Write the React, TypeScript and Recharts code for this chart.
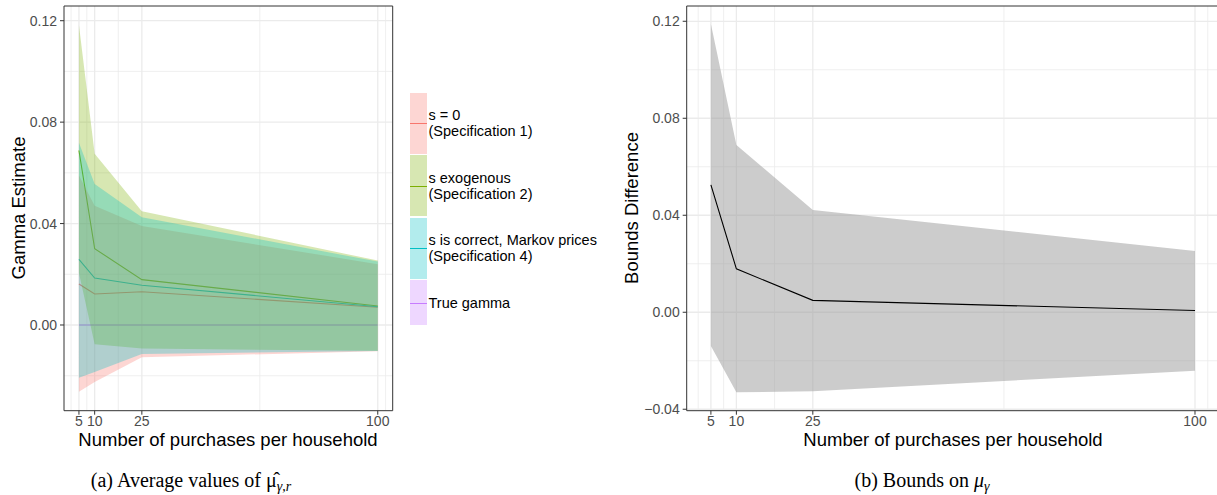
import {
  ComposedChart,
  Area,
  Line,
  XAxis,
  YAxis,
  CartesianGrid,
  ReferenceLine,
} from 'recharts';

// purchases per household (x)
const purchases = [5, 10, 25, 100];

// (a) s = 0 (Specification 1)
const spec1Mean = [0.0162, 0.0122, 0.0131, 0.007];
const spec1Lower = [-0.0263, -0.0225, -0.0127, -0.0104];
const spec1Upper = [0.059, 0.047, 0.039, 0.024];

// (a) s exogenous (Specification 2)
const spec2Mean = [0.0688, 0.0301, 0.0179, 0.0075];
const spec2Lower = [0.0205, -0.0076, -0.0093, -0.0102];
const spec2Upper = [0.1183, 0.0675, 0.0449, 0.0254];

// (a) s is correct, Markov prices (Specification 4)
const spec4Mean = [0.0259, 0.0185, 0.0157, 0.0072];
const spec4Lower = [-0.0208, -0.0185, -0.0114, -0.0103];
const spec4Upper = [0.0719, 0.0556, 0.0425, 0.025];

const trueGamma = [0, 0, 0, 0];

// (b) bounds difference
const boundsMean = [0.0525, 0.0179, 0.0049, 0.0007];
const boundsLower = [-0.0139, -0.033, -0.0326, -0.0241];
const boundsUpper = [0.1189, 0.069, 0.0422, 0.0253];

const xTicks = [5, 10, 25, 100];
const xMinor = [2.5, 7.5, 17.5, 62.5, 102.5];
const leftYTicks = [0, 0.04, 0.08, 0.12];
const rightYTicks = [-0.04, 0, 0.04, 0.08, 0.12];
const yMinor = [-0.02, 0.02, 0.06, 0.1];

const xDomain: [number, number] = [0.25, 104.75];
const leftYDomain: [number, number] = [-0.0338, 0.1258];
const rightYDomain: [number, number] = [-0.0406, 0.1263];

const RED = '#F8766D';
const GREEN = '#7CAE00';
const CYAN = '#00BFC4';
const PURPLE = '#C77CFF';

const legendItems = [
  { lines: ['s = 0', '(Specification 1)'], color: RED },
  { lines: ['s exogenous', '(Specification 2)'], color: GREEN },
  { lines: ['s is correct, Markov prices', '(Specification 4)'], color: CYAN },
  { lines: ['True gamma'], color: PURPLE },
];

const leftData = purchases.map((n, i) => ({
  n,
  s1: spec1Mean[i],
  s1Band: [spec1Lower[i], spec1Upper[i]],
  s2: spec2Mean[i],
  s2Band: [spec2Lower[i], spec2Upper[i]],
  s4: spec4Mean[i],
  s4Band: [spec4Lower[i], spec4Upper[i]],
  truth: trueGamma[i],
}));

const rightData = purchases.map((n, i) => ({
  n,
  diff: boundsMean[i],
  band: [boundsLower[i], boundsUpper[i]],
}));

const fmt = (v: number) => (v < 0 ? '\u2212' + Math.abs(v).toFixed(2) : v.toFixed(2));

const tickStyle = { fontSize: 14, fill: '#4D4D4D' };
const axisTitle: React.CSSProperties = {
  position: 'absolute',
  fontSize: 18.5,
  lineHeight: '22px',
  height: 22,
  color: '#000',
  textAlign: 'center',
  whiteSpace: 'nowrap',
};
const caption: React.CSSProperties = {
  position: 'absolute',
  width: 400,
  top: 468,
  height: 27,
  textAlign: 'center',
  fontFamily: '"Liberation Serif", "Times New Roman", serif',
  fontSize: 20,
  lineHeight: '24px',
  whiteSpace: 'nowrap',
};
const subStyle: React.CSSProperties = { fontSize: 14, position: 'relative', top: 4 };

export default function App() {
  return (
    <div
      style={{
        position: 'absolute',
        left: 0,
        top: 0,
        width: 1217,
        height: 495,
        overflow: 'hidden',
        background: '#fff',
        fontFamily: '"Liberation Sans", Arial, sans-serif',
      }}
    >
      {/* (a) */}
      <div style={{ position: 'absolute', left: 0, top: 0 }}>
        <ComposedChart
          width={400}
          height={432}
          data={leftData}
          margin={{ top: 6, right: 7.3, bottom: 0, left: 0 }}
        >
          <CartesianGrid stroke="#EBEBEB" strokeWidth={0.8} horizontalValues={yMinor} verticalValues={xMinor} />
          <CartesianGrid stroke="#EBEBEB" strokeWidth={1.3} horizontalValues={leftYTicks} verticalValues={xTicks} />
          <XAxis
            dataKey="n"
            type="number"
            domain={xDomain}
            ticks={xTicks}
            allowDataOverflow
            height={21.3}
            tickSize={4}
            tickMargin={1}
            tick={tickStyle}
            stroke="#333"
            interval={0}
          />
          <YAxis
            type="number"
            domain={leftYDomain}
            ticks={leftYTicks}
            allowDataOverflow
            width={64}
            tickSize={4}
            tickMargin={3}
            tick={tickStyle}
            tickFormatter={fmt}
            stroke="#333"
            interval={0}
          />
          <Line dataKey="truth" stroke={PURPLE} strokeWidth={1.1} dot={false} isAnimationActive={false} zIndex={90} />
          <Line dataKey="s1" stroke={RED} strokeWidth={1.1} dot={false} isAnimationActive={false} zIndex={91} />
          <Line dataKey="s2" stroke={GREEN} strokeWidth={1.1} dot={false} isAnimationActive={false} zIndex={92} />
          <Line dataKey="s4" stroke={CYAN} strokeWidth={1.1} dot={false} isAnimationActive={false} zIndex={93} />
          <Area dataKey="s1Band" type="linear" stroke="none" fill={RED} fillOpacity={0.3} isAnimationActive={false} zIndex={501} />
          <Area dataKey="s2Band" type="linear" stroke="none" fill={GREEN} fillOpacity={0.3} isAnimationActive={false} zIndex={502} />
          <Area dataKey="s4Band" type="linear" stroke="none" fill={CYAN} fillOpacity={0.3} isAnimationActive={false} zIndex={503} />
          <ReferenceLine y={leftYDomain[1]} stroke="#333" strokeWidth={1} />
          <ReferenceLine x={xDomain[1]} stroke="#333" strokeWidth={1} />
        </ComposedChart>
        <div style={{ ...axisTitle, left: 28, top: 429, width: 400 }}>Number of purchases per household</div>
        <div
          style={{
            ...axisTitle,
            left: 18.5 - 150,
            top: 208 - 11,
            width: 300,
            transform: 'rotate(-90deg)',
          }}
        >
          Gamma Estimate
        </div>
      </div>

      {/* legend of (a) */}
      <div style={{ position: 'absolute', left: 410, top: 92.7, fontSize: 14.5, lineHeight: '16px', color: '#000' }}>
        {legendItems.map((it) => (
          <div
            key={it.lines[0]}
            style={{
              display: 'flex',
              alignItems: 'center',
              height: it.lines.length > 1 ? 61 : 45,
              marginBottom: 1.5,
            }}
          >
            <div
              style={{
                width: 17,
                height: '100%',
                position: 'relative',
                backgroundColor: it.color + '4D',
              }}
            >
              <div
                style={{
                  position: 'absolute',
                  left: 0,
                  right: 0,
                  top: '50%',
                  height: 1,
                  background: it.color,
                }}
              />
            </div>
            <div style={{ marginLeft: 1.5, whiteSpace: 'nowrap' }}>
              {it.lines.map((l) => (
                <div key={l}>{l}</div>
              ))}
            </div>
          </div>
        ))}
      </div>

      {/* (b) */}
      <div style={{ position: 'absolute', left: 610, top: 0 }}>
        <ComposedChart
          width={612}
          height={432}
          data={rightData}
          margin={{ top: 6, right: 2.8, bottom: 0, left: 0 }}
        >
          <CartesianGrid stroke="#EBEBEB" strokeWidth={0.8} horizontalValues={yMinor} verticalValues={xMinor} />
          <CartesianGrid stroke="#EBEBEB" strokeWidth={1.3} horizontalValues={rightYTicks} verticalValues={xTicks} />
          <XAxis
            dataKey="n"
            type="number"
            domain={xDomain}
            ticks={xTicks}
            allowDataOverflow
            height={21.3}
            tickSize={4}
            tickMargin={1}
            tick={tickStyle}
            stroke="#333"
            interval={0}
          />
          <YAxis
            type="number"
            domain={rightYDomain}
            ticks={rightYTicks}
            allowDataOverflow
            width={76.7}
            tickSize={4}
            tickMargin={3}
            tick={tickStyle}
            tickFormatter={fmt}
            stroke="#333"
            interval={0}
          />
          <Line dataKey="diff" stroke="#000" strokeWidth={1.1} dot={false} isAnimationActive={false} />
          <Area dataKey="band" type="linear" stroke="none" fill="#999999" fillOpacity={0.5} isAnimationActive={false} />
          <ReferenceLine y={rightYDomain[1]} stroke="#333" strokeWidth={1} />
        </ComposedChart>
        <div style={{ ...axisTitle, left: 93, top: 429, width: 500 }}>Number of purchases per household</div>
        <div
          style={{
            ...axisTitle,
            left: 22.3 - 150,
            top: 208 - 11,
            width: 300,
            transform: 'rotate(-90deg)',
          }}
        >
          Bounds Difference
        </div>
      </div>

      {/* captions */}
      <div style={{ ...caption, left: 191 - 200 }}>
        (a) Average values of {'\u03bc\u0302'}
        <span style={subStyle}>
          <i>{'\u03b3'}</i>,<i>r</i>
        </span>
      </div>
      <div style={{ ...caption, left: 922 - 200 }}>
        (b) Bounds on <i>{'\u03bc'}</i>
        <span style={subStyle}>
          <i>{'\u03b3'}</i>
        </span>
      </div>
    </div>
  );
}
